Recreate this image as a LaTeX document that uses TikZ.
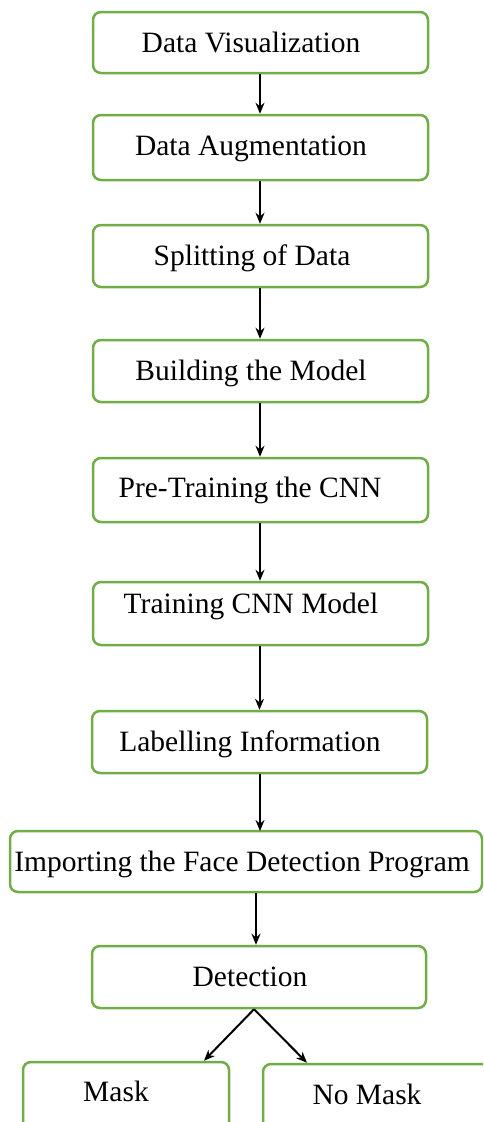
\documentclass[tikz,border=0pt]{standalone}
\usepackage{fontspec}
\setmainfont{Liberation Serif}
\usetikzlibrary{arrows.meta}
\definecolor{boxgreen}{HTML}{70AD47}
\begin{document}
\begin{tikzpicture}[x=1pt,y=-1pt,
  box/.style={draw=boxgreen, line width=2.5pt, rounded corners=8pt, fill=white, inner sep=0pt, minimum width=335pt, minimum height=62pt},
  txt/.style={font=\fontsize{29.5}{34}\selectfont, anchor=base, inner sep=0pt},
  arr/.style={-{Stealth[length=11pt,width=9pt]}, line width=2pt, black}]
\useasboundingbox (0,0) rectangle (483,1122);
\clip (0,0) rectangle (483,1122);
\node[box, minimum height=61pt] (b1) at (260.5,42.5) {};
\node[box, minimum height=65pt] (b2) at (260.5,147.5) {};
\node[box] (b3) at (260.5,256) {};
\node[box] (b4) at (260.5,371) {};
\node[box, minimum height=64pt] (b5) at (260.5,490) {};
\node[box, minimum height=63pt] (b6) at (260.5,613.5) {};
\node[box] (b7) at (259.5,742) {};
\node[box, minimum width=472pt, minimum height=61pt] (b8) at (246,861.5) {};
\node[box, minimum width=334pt] (b9) at (259,977) {};
\node[box, minimum width=206pt, minimum height=78pt] (m) at (126,1101) {};
\node[box, minimum width=237pt, minimum height=76pt] (nm) at (381.5,1102) {};

\node[txt] (t1) at (251,52) {Data Visualization};
\node[txt] (t2) at (251,155) {Data Augmentation};
\node[txt] (t3) at (252,265) {Splitting of Data};
\node[txt] (t4) at (251,380) {Building the Model};
\node[txt] (t5) at (250,497) {Pre-Training the CNN};
\node[txt] (t6) at (251,613) {Training CNN Model};
\node[txt] (t7) at (250,751) {Labelling Information};
\node[txt] (t8) at (242,871) {Importing the Face Detection Program};
\node[txt] (t9) at (250,986) {Detection};
\node[txt] (tm) at (116,1101) {Mask};
\node[txt] (tnm) at (367,1104) {No Mask};

\coordinate (a12) at ([xshift=-0.5pt]b2.north);
\draw[arr] (b1.south -| a12) -- (a12);
\coordinate (a23) at ([xshift=-0.5pt]b3.north);
\draw[arr] (b2.south -| a23) -- (a23);
\coordinate (a34) at ([xshift=-0.5pt]b4.north);
\draw[arr] (b3.south -| a34) -- (a34);
\coordinate (a45) at ([xshift=-0.5pt]b5.north);
\draw[arr] (b4.south -| a45) -- (a45);
\coordinate (a56) at ([xshift=-0.5pt]b6.north);
\draw[arr] (b5.south -| a56) -- (a56);
\coordinate (a67) at (b7.north);
\draw[arr] (b6.south -| a67) -- (a67);
\coordinate (a78) at (260,831);
\draw[arr] (b7.south -| a78) -- (a78);
\coordinate (a89) at ([xshift=-3pt]b9.north);
\draw[arr] (b8.south -| a89) -- (a89);
\coordinate (d0) at ([xshift=-5pt]b9.south);
\draw[arr] (d0) -- ([xshift=78pt]m.north);
\draw[arr] (d0) -- ([xshift=-74.5pt]nm.north);
\end{tikzpicture}
\end{document}
